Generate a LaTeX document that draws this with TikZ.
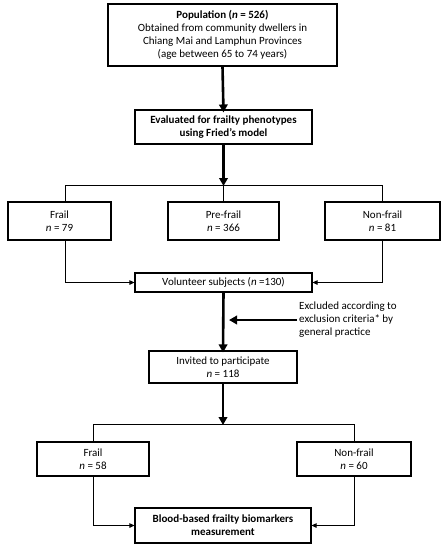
\documentclass[tikz,border=0pt]{standalone}
\usepackage{fontspec}
\setmainfont{Carlito}
\usetikzlibrary{arrows.meta}
\begin{document}
\begin{tikzpicture}[x=1pt,y=-1pt,
  box/.style={draw, line width=1.1pt, align=center, inner sep=0pt, font=\fontsize{11}{13}\selectfont},
  thick arrow/.style={line width=2.6pt, -{Triangle[length=8pt,width=8.5pt]}},
  thin arrow/.style={line width=0.9pt, -{Triangle[length=5pt,width=4.5pt]}},
  thin line/.style={line width=0.9pt}]
\useasboundingbox (0,0) rectangle (445,550);
\node[box, minimum width=229pt, minimum height=62pt] (pop) at (222.5,35)
  {\textbf{Population (\textit{n} = 526)}\\Obtained from community dwellers in\\Chiang Mai and Lamphun Provinces\\(age between 65 to 74 years)};
\node[box, minimum width=177pt, minimum height=34pt] (eval) at (223.5,127)
  {\textbf{Evaluated for frailty phenotypes}\\\textbf{using Fried’s model}};
\node[box, minimum width=103pt, minimum height=38pt] (frailA) at (59.5,221) {Frail\\\textit{n} = 79};
\node[box, minimum width=111pt, minimum height=38pt] (preA) at (223.5,221) {Pre-frail\\\textit{n} = 366};
\node[box, minimum width=115pt, minimum height=38pt] (nonA) at (382.5,221) {Non-frail\\\textit{n} = 81};
\node[box, minimum width=177pt, minimum height=19pt] (vol) at (223.5,282.5) {Volunteer subjects (\textit{n} =130)};
\node[box, minimum width=148pt, minimum height=32pt] (inv) at (223,367) {Invited to participate\\\textit{n} = 118};
\node[box, minimum width=112pt, minimum height=34pt] (frailB) at (93,459) {Frail\\\textit{n} = 58};
\node[box, minimum width=114pt, minimum height=34pt] (nonB) at (354,459) {Non-frail\\\textit{n} = 60};
\node[box, minimum width=176pt, minimum height=35pt] (blood) at (223,525.5)
  {\textbf{Blood-based frailty biomarkers}\\\textbf{measurement}};
\node[align=left, anchor=west, inner sep=0pt, font=\fontsize{11}{13}\selectfont] (excl) at (299,320)
  {Excluded according to\\exclusion criteria* by\\general practice};
% coordinates
\coordinate (s1) at (223.5,185);
\coordinate (fA) at (65,185);
\coordinate (nA) at (382,185);
\coordinate (s2) at (223,424);
\coordinate (exend) at (229,320);
% connectors
\draw[thick arrow] (pop.south) -- ([yshift=-3pt]eval.north);
\draw[thick arrow] (eval.south) -- ([yshift=-1pt]s1);
\draw[thin line] (fA) -- (nA);
\draw[thin line] (fA) -- (fA |- frailA.north);
\draw[thin line] (s1) -- (preA.north);
\draw[thin line] (nA) -- (nA |- nonA.north);
\draw[thin arrow] (fA |- frailA.south) |- (vol.west);
\draw[thin arrow] (nA |- nonA.south) |- (vol.east);
\draw[thick arrow] (vol.south) -- ([yshift=-2pt]inv.north);
\draw[thick arrow] ([xshift=-2pt]excl.west |- exend) -- (exend);
\draw[thick arrow] (inv.south) -- ([yshift=-1pt]s2);
\draw[thin line] (frailB.north |- s2) -- (nonB.north |- s2);
\draw[thin line] (frailB.north |- s2) -- (frailB.north);
\draw[thin line] (nonB.north |- s2) -- (nonB.north);
\draw[thin arrow] (frailB.south) |- (blood.west);
\draw[thin arrow] (nonB.south) |- (blood.east);
\end{tikzpicture}
\end{document}
